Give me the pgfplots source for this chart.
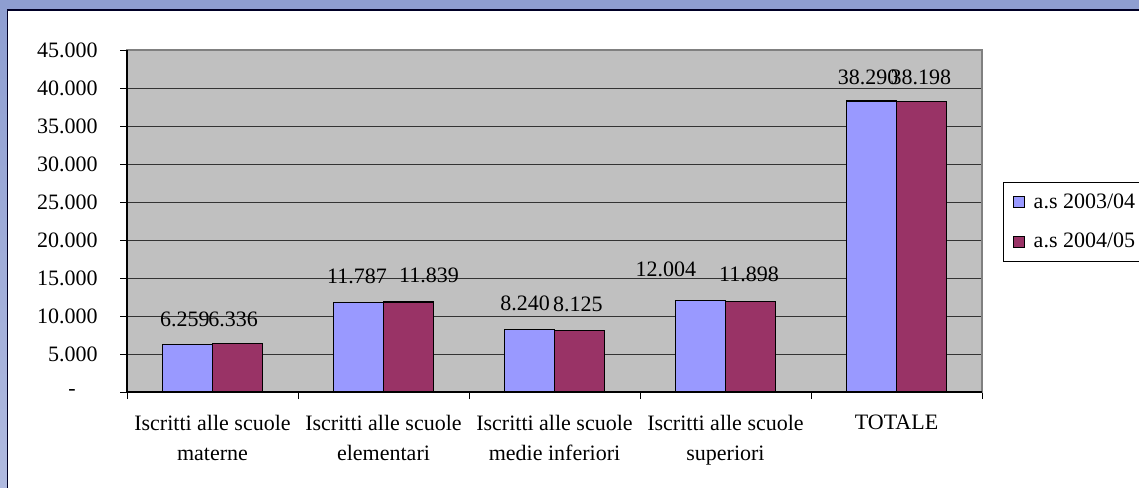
\documentclass[border=0pt]{standalone}
\usepackage{pgfplots}
\pgfplotsset{compat=1.18}
\usepackage{pgfplotstable}
\usepackage{fontspec}
\setmainfont{Liberation Serif}
\definecolor{bandtop}{HTML}{8E9ED1}
\definecolor{bandbot}{HTML}{B0BAE0}
\definecolor{serA}{HTML}{9999FF}
\definecolor{serB}{HTML}{993366}
\definecolor{plotbg}{HTML}{C0C0C0}
% values
\pgfplotstableread{
x a b
0 6259 6336
1 11787 11839
2 8240 8125
3 12004 11898
4 38290 38198
}\datatable
% data label positions (base of text), as placed in the reference
\pgfplotstableread{
lx ly lab
-0.161 8684 6.259
0.120 8684 6.336
0.845 14342 11.787
1.266 14474 11.839
1.828 10789 8.240
2.137 10658 8.125
2.652 15171 12.004
3.137 14513 11.898
3.834 40526 38.290
4.143 40526 38.198
}\labeltable
\begin{document}
\begin{tikzpicture}[font=\fontsize{11}{15}\selectfont]
\useasboundingbox (0,0) rectangle (569.5pt,243.5pt);
\clip (0,0) rectangle (569.5pt,243.5pt);
\shade[top color=bandtop, bottom color=bandbot] (0,0) rectangle (569.5pt,243.5pt);
\draw[fill=white, draw=black!85!blue, line width=0.75pt] (3.75pt,-5pt) rectangle (580pt,238.5pt);
\begin{axis}[
  at={(63.5pt,47.5pt)}, anchor=south west,
  scale only axis, width=427.5pt, height=171pt,
  xmin=-0.5, xmax=4.5, ymin=0, ymax=45000,
  ybar=0pt, bar width=25pt,
  scaled y ticks=false,
  axis background/.style={fill=plotbg},
  axis line style={draw=gray, line width=0.6pt},
  xtick={-0.5,0.5,1.5,2.5,3.5,4.5},
  x tick label as interval,
  xticklabels={{Iscritti alle scuole\\materne},{Iscritti alle scuole\\elementari},{Iscritti alle scuole\\medie inferiori},{Iscritti alle scuole\\superiori},TOTALE},
  x tick label style={align=center, anchor=north, inner sep=0pt, yshift=-8pt, font=\fontsize{11}{15}\selectfont},
  ytick={0,5000,10000,15000,20000,25000,30000,35000,40000,45000},
  yticklabels={{-\hphantom{00}},5.000,10.000,15.000,20.000,25.000,30.000,35.000,40.000,45.000},
  y tick label style={anchor=east, inner sep=0pt, xshift=-11pt, font=\fontsize{11}{15}\selectfont},
  tick align=outside, xtick pos=bottom, ytick pos=left,
  major tick length=3.5pt,
  tick style={black, line width=0.5pt},
  ymajorgrids, major grid style={black!80, line width=0.5pt},
  legend style={at={(1.0246,0.614)}, anchor=north west, draw=black, fill=white, line width=0.5pt,
    inner xsep=4.5pt, inner ysep=5.5pt, row sep=11pt, column sep=4.5pt,
    nodes={inner sep=0pt, anchor=west}, font=\fontsize{11}{15}\selectfont},
  legend cell align=left,
  after end axis/.code={\draw[black, line width=0.6pt] (rel axis cs:0,1) -- (rel axis cs:0,0) -- (rel axis cs:1,0);},
]
\addplot[fill=serA, draw=black, line width=0.6pt, bar shift=-12.5pt,
  legend image code/.code={\draw[fill=serA,draw=black,line width=0.6pt] (0pt,-2.75pt) rectangle (5.5pt,2.75pt);}]
  table[x=x,y=a]{\datatable};
\addlegendentry{a.s 2003/04}
\addplot[fill=serB, draw=black, line width=0.6pt, bar shift=12.5pt,
  legend image code/.code={\draw[fill=serB,draw=black,line width=0.6pt] (0pt,-2.75pt) rectangle (5.5pt,2.75pt);}]
  table[x=x,y=b]{\datatable};
\addlegendentry{a.s 2004/05}
\addplot[draw=none, fill=none, bar shift=0pt, forget plot,
  point meta=explicit symbolic, nodes near coords,
  every node near coord/.append style={anchor=base, inner sep=0pt, black, font=\fontsize{11}{15}\selectfont}]
  table[x=lx,y=ly,meta=lab]{\labeltable};
\end{axis}
\end{tikzpicture}
\end{document}
